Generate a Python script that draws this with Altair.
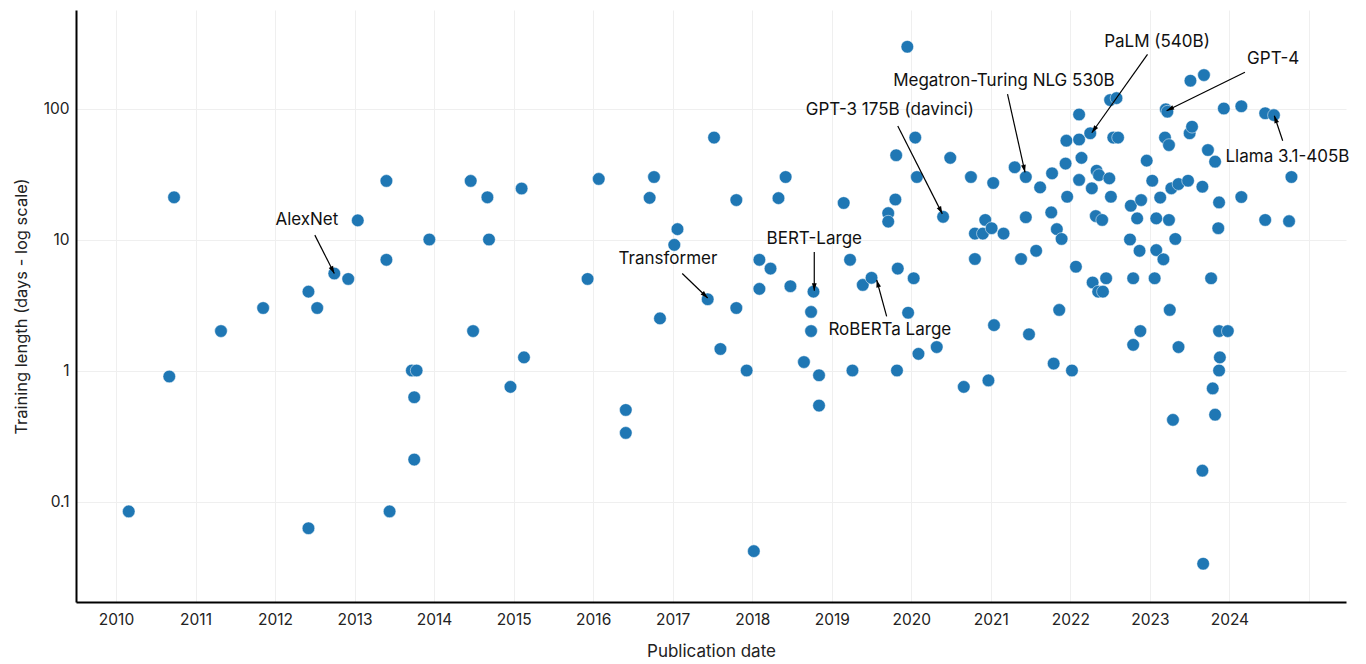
import math
import altair as alt
import pandas as pd

# ---- data ----
pub_year = [
    2010.16, 2010.67, 2010.73, 2011.32, 2011.85, 2012.42, 2012.42, 2012.53, 2012.745, 2012.92,
    2013.04, 2013.40, 2013.40, 2013.44, 2013.72, 2013.78, 2013.75, 2013.75, 2013.94, 2014.46,
    2014.49, 2014.67, 2014.69, 2014.96, 2015.10, 2015.13,
    2015.93, 2016.07, 2016.41, 2016.41, 2016.71, 2016.765, 2016.84, 2017.02, 2017.06, 2017.44,
    2017.52, 2017.60, 2017.80, 2017.80, 2017.93, 2018.02, 2018.09, 2018.09, 2018.23, 2018.33,
    2018.42, 2018.48, 2018.65, 2018.74, 2018.74, 2018.77, 2018.84, 2018.84, 2019.15, 2019.23,
    2019.26, 2019.39, 2019.50, 2019.71, 2019.71, 2019.80, 2019.81, 2019.82, 2019.83,
    2019.95, 2019.96, 2020.03, 2020.05, 2020.07, 2020.09, 2020.32, 2020.40, 2020.49, 2020.66,
    2020.75, 2020.80, 2020.80, 2020.90, 2020.93, 2020.97, 2021.01, 2021.03, 2021.04, 2021.16,
    2021.30, 2021.38, 2021.44, 2021.44, 2021.48, 2021.57, 2021.62, 2021.76, 2021.77, 2021.79,
    2021.83, 2021.86, 2021.89, 2021.94, 2021.95, 2021.96, 2022.02, 2022.07, 2022.11, 2022.11,
    2022.11, 2022.14, 2022.25, 2022.27, 2022.28, 2022.32, 2022.33, 2022.36, 2022.35, 2022.41,
    2022.40, 2022.45, 2022.49, 2022.50, 2022.51, 2022.54, 2022.58, 2022.60,
    2022.75, 2022.76, 2022.79, 2022.79, 2022.84, 2022.87, 2022.88, 2022.89, 2022.96, 2023.03,
    2023.06, 2023.08, 2023.08, 2023.13, 2023.17, 2023.19, 2023.20, 2023.22, 2023.24, 2023.24,
    2023.25, 2023.27, 2023.29, 2023.32, 2023.36, 2023.36, 2023.48, 2023.50, 2023.51, 2023.53,
    2023.66, 2023.66, 2023.67, 2023.68, 2023.73, 2023.77, 2023.79, 2023.82, 2023.82, 2023.86,
    2023.87, 2023.87, 2023.87, 2023.88, 2023.93, 2023.98, 2024.15, 2024.15, 2024.45, 2024.45,
    2024.56, 2024.75, 2024.78,
]
train_days = [
    0.084, 0.9, 21, 2.0, 3.0, 4.0, 0.0625, 3.0, 5.5, 5.0,
    14, 28, 7.0, 0.084, 1.0, 1.0, 0.625, 0.209, 10, 28,
    2.0, 21, 10, 0.75, 24.5, 1.26,
    5.0, 29, 0.50, 0.334, 20.8, 30, 2.5, 9.1, 12, 3.5,
    60, 1.46, 20, 3.0, 1.0, 0.0418, 7.0, 4.2, 6.0, 20.7,
    30, 4.4, 1.16, 2.8, 2.0, 4.0, 0.92, 0.54, 19, 7.0,
    1.0, 4.5, 5.1, 15.9, 13.7, 20.2, 44, 1.0, 6.0,
    296, 2.76, 5.06, 60, 30, 1.34, 1.51, 14.9, 42, 0.75,
    30, 11.1, 7.1, 11.1, 14.1, 0.84, 12.2, 27, 2.22, 11.1,
    35.6, 7.1, 30, 14.8, 1.89, 8.2, 25, 16.1, 32, 1.13,
    12.0, 2.9, 10.1, 38, 56.8, 21.2, 1.0, 6.2, 90, 58,
    28.5, 42, 64.7, 24.6, 4.7, 15.1, 33.5, 31, 4.0, 4.0,
    14.1, 5.06, 29.3, 116, 21.2, 60, 120, 60,
    10.0, 18.1, 5.06, 1.57, 14.5, 8.2, 2.0, 20, 40, 28.1,
    5.06, 14.5, 8.3, 20.9, 7.06, 60, 98.6, 94.6, 52.6, 14.1,
    2.9, 24.6, 0.42, 10.1, 26.5, 1.51, 28.1, 64.7, 163, 72.6,
    25.3, 0.172, 0.0335, 180, 48.2, 5.06, 0.73, 39.3, 0.46, 12.2,
    19.2, 2.0, 1.0, 1.26, 100, 2.0, 104, 21.1, 92, 14.1,
    89, 13.8, 30,
]

ann_label = ["AlexNet", "Transformer", "BERT-Large", "RoBERTa Large",
             "GPT-3 175B (davinci)", "Megatron-Turing NLG 530B", "PaLM (540B)",
             "GPT-4", "Llama 3.1-405B"]
ann_text_year = [2012.40, 2016.94, 2018.78, 2019.73, 2019.73, 2021.165, 2023.09, 2024.55, 2024.73]
ann_text_days = [14.1, 7.1, 10.1, 2.04, 96.6, 162, 322, 239, 42.9]
arrow_from_year = [2012.50, 2017.12, 2018.78, 2019.69, 2019.83, 2021.21, 2022.97, 2024.195, 2024.67]
arrow_from_days = [10.8, 5.5, 8.03, 2.59, 73.5, 129, 259, 189, 56.8]
arrow_to_year = [2012.745, 2017.44, 2018.78, 2019.565, 2020.39, 2021.43, 2022.27, 2023.21, 2024.565]
arrow_to_days = [5.5, 3.58, 4.07, 4.91, 15.7, 32.6, 65.3, 96.2, 88.1]

source_text = "Source: Epoch AI, 2025 | Chart: 2025 AI Index report"

# ---- layout ----
W, H = 1270, 592
X_DOMAIN = [2009.497, 2025.466]
Y_DOMAIN = [0.0171, 565]
FONT = "Inter"


def px(yr):
    return (yr - X_DOMAIN[0]) / (X_DOMAIN[1] - X_DOMAIN[0]) * W


def py(v):
    lo, hi = math.log10(Y_DOMAIN[0]), math.log10(Y_DOMAIN[1])
    return H * (1 - (math.log10(v) - lo) / (hi - lo))


angles = []
for a, b, c, d in zip(arrow_from_year, arrow_from_days, arrow_to_year, arrow_to_days):
    dx = px(c) - px(a)
    dy = py(d) - py(b)
    angles.append(math.degrees(math.atan2(dx, -dy)) % 360)

points = pd.DataFrame({"x": pub_year, "y": train_days})
arrows = pd.DataFrame({"x": arrow_from_year, "y": arrow_from_days,
                       "x2": arrow_to_year, "y2": arrow_to_days, "angle": angles})
heads = pd.DataFrame({"x": arrow_to_year, "y": arrow_to_days, "angle": angles})
labels = pd.DataFrame({"x": ann_text_year, "y": ann_text_days, "label": ann_label})
source = pd.DataFrame({"t": [source_text]})

xscale = alt.Scale(domain=X_DOMAIN, nice=False, zero=False)
yscale = alt.Scale(type="log", domain=Y_DOMAIN, nice=False)

x_axis = alt.Axis(
    values=list(range(2010, 2026)),
    labelExpr="datum.value > 2024 ? '' : format(datum.value, 'd')",
    title="Publication date",
    titleFontSize=17, titleFontWeight="normal", titleColor="#222",
    titleBaseline="top", titleY=41,
    labelFontSize=15.5, labelColor="#222", labelPadding=10,
    ticks=False, domainColor="black", domainWidth=2,
    gridColor="#efefef", gridWidth=1, labelFlush=False,
)
y_axis = alt.Axis(
    values=[0.1, 1, 10, 100], format="~g",
    title="Training length (days - log scale)",
    titleFontSize=16.5, titleFontWeight="normal", titleColor="#222",
    titleX=-47,
    labelFontSize=15.5, labelColor="#222", labelPadding=7,
    ticks=False, domainColor="black", domainWidth=2,
    gridColor="#efefef", gridWidth=1,
)

pts = alt.Chart(points).mark_circle(
    size=160, color="#1f77b4", opacity=1, stroke="white", strokeWidth=0.5
).encode(
    x=alt.X("x:Q", scale=xscale, axis=x_axis),
    y=alt.Y("y:Q", scale=yscale, axis=y_axis),
)

rules = alt.Chart(arrows).mark_rule(color="black", strokeWidth=1.2).encode(
    x=alt.X("x:Q", scale=xscale), y=alt.Y("y:Q", scale=yscale),
    x2="x2:Q", y2="y2:Q",
)

tips = alt.Chart(heads).mark_point(
    shape="M0,0 L0.32,1 L-0.32,1 Z", filled=True, color="black", opacity=1, size=225
).encode(
    x=alt.X("x:Q", scale=xscale), y=alt.Y("y:Q", scale=yscale),
    angle=alt.Angle("angle:Q", scale=None),
)

texts = alt.Chart(labels).mark_text(
    font=FONT, fontSize=17, color="#111", align="center", baseline="middle"
).encode(
    x=alt.X("x:Q", scale=xscale), y=alt.Y("y:Q", scale=yscale), text="label:N",
)

src = alt.Chart(source).mark_text(
    font=FONT, fontSize=13, color="#333", align="left", baseline="alphabetic"
).encode(x=alt.value(-66), y=alt.value(-8), text="t:N")

chart = alt.layer(pts, rules, tips, texts, src).properties(
    width=W, height=H,
    autosize=alt.AutoSizeParams(type="none"),
    padding={"left": 68, "top": 2, "right": 12, "bottom": 60},
).configure(font=FONT).configure_view(stroke=None)

chart.save("out.html", embed_options={"renderer": "svg", "actions": False})
